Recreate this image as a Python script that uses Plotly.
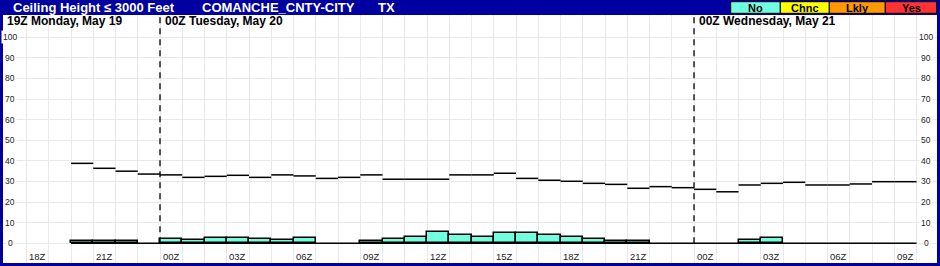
import plotly.graph_objects as go

# ---------------- data ----------------
# hours counted from 00Z Monday May 19 (hour 20 = 20Z Mon, 24 = 00Z Tue, 48 = 00Z Wed)
hours = list(range(20, 58))
clim_line = [38.8, 36.4, 35.0, 33.6,
             33.2, 32.0, 32.5, 33.0, 32.0, 33.2, 32.7, 31.5, 32.0, 33.2, 31.1, 31.1,
             31.1, 33.2, 33.2, 34.0, 31.5, 30.6, 30.1, 29.1, 28.6, 26.7, 27.5, 27.0,
             26.2, 25.0, 28.3, 29.1, 29.6, 28.3, 28.3, 28.8, 29.9, 29.9]
prob_bars = [1.0, 1.0, 1.0, 0.0,
             2.1, 1.5, 2.4, 2.4, 2.1, 1.5, 2.4, 0.0, 0.0, 1.0, 1.9, 3.2,
             5.3, 4.2, 3.2, 4.8, 4.8, 3.9, 3.2, 1.9, 1.0, 1.0, 0.0, 0.0,
             0.0, 0.0, 1.5, 2.4, 0.0, 0.0, 0.0, 0.0, 0.0, 0.0]
tick_hours = [18, 21, 24, 27, 30, 33, 36, 39, 42, 45, 48, 51, 54, 57]
tick_text = ["18Z", "21Z", "00Z", "03Z", "06Z", "09Z", "12Z", "15Z", "18Z", "21Z",
             "00Z", "03Z", "06Z", "09Z"]
y_ticks = [0, 10, 20, 30, 40, 50, 60, 70, 80, 90, 100]
day_starts = [17, 24, 48]
day_labels = ["19Z Monday, May 19", "00Z Tuesday, May 20", "00Z Wednesday, May 21"]
legend_names = ["No", "Chnc", "Lkly", "Yes"]
legend_colors = ["#70FFDF", "#FFFF00", "#FF9900", "#FF3333"]

# ---------------- layout geometry ----------------
W, H = 940, 266
ML, MR, MT, MB = 3, 3, 15, 3
PW, PH = W - ML - MR, H - MT - MB
X_RANGE = [16.944, 58.92]
Y_RANGE = [-9.56, 110.8]
BLUE = "#0000A0"
GRID = "#E8E8E8"
FONT = "Liberation Sans, Arial, sans-serif"


def px_to_paper_x(px):
    return (px - ML) / PW


def px_to_paper_y(py):
    return (H - MB - py) / PH


fig = go.Figure()

# bars (zero-height hours are left to the baseline)
fig.add_trace(go.Bar(
    x=[h + 0.5 for h in hours], y=[v if v > 0 else None for v in prob_bars], width=1,
    marker=dict(color=legend_colors[0], line=dict(color="black", width=1.5)),
    hoverinfo="skip"))

# baseline
fig.add_trace(go.Scatter(
    x=[hours[0], hours[-1] + 1], y=[0, 0], mode="lines",
    line=dict(color="black", width=1.5), hoverinfo="skip"))

# climatology step segments (no vertical connectors)
sx, sy = [], []
for h, v in zip(hours, clim_line):
    sx += [h, h + 1, None]
    sy += [v, v, None]
fig.add_trace(go.Scatter(x=sx, y=sy, mode="lines",
                         line=dict(color="black", width=1.5), hoverinfo="skip"))

shapes = []
# day separators
for d in day_starts[1:]:
    shapes.append(dict(type="line", xref="x", yref="y", x0=d, x1=d, y0=0, y1=Y_RANGE[1],
                       line=dict(color="black", width=1.3, dash="6px,5px")))

annotations = []
# title bar texts
for txt, px in [("Ceiling Height \u2264 3000 Feet", 11), ("COMANCHE_CNTY-CITY", 200), ("TX", 376)]:
    annotations.append(dict(text=txt, xref="paper", yref="paper",
                            x=px_to_paper_x(px), y=px_to_paper_y(7.5),
                            xanchor="left", yanchor="middle", showarrow=False,
                            font=dict(family=FONT, size=13, color="white", weight="bold")))

# legend boxes
box_edges = [730.7, 780.3, 829.3, 885.3, 936.7]
for i, (name, col) in enumerate(zip(legend_names, legend_colors)):
    x0, x1 = box_edges[i], box_edges[i + 1]
    shapes.append(dict(type="rect", xref="paper", yref="paper",
                       x0=px_to_paper_x(x0), x1=px_to_paper_x(x1),
                       y0=px_to_paper_y(13.3), y1=px_to_paper_y(1.7),
                       fillcolor=col, line=dict(color="black", width=1)))
    annotations.append(dict(text=name, xref="paper", yref="paper",
                            x=px_to_paper_x((x0 + x1) / 2), y=px_to_paper_y(7.6),
                            xanchor="center", yanchor="middle", showarrow=False,
                            font=dict(family=FONT, size=11, color="black", weight="bold")))

# day header labels
for d, lab in zip(day_starts, day_labels):
    annotations.append(dict(text=lab, xref="x", yref="paper",
                            x=d + (0.03 if d == 17 else 0.12), y=px_to_paper_y(21),
                            xanchor="left", yanchor="middle", showarrow=False,
                            font=dict(family=FONT, size=12, color="black", weight="bold")))

# bottom hour labels
for h, t in zip(tick_hours, tick_text):
    annotations.append(dict(text=t, xref="x", yref="paper", x=h + 0.5, y=px_to_paper_y(256.5),
                            xanchor="center", yanchor="middle", showarrow=False,
                            font=dict(family=FONT, size=9.5, color="#222222")))

# y labels on both sides
for v in y_ticks:
    for px in (10, 926):
        annotations.append(dict(text=str(v), xref="paper", yref="y", x=px_to_paper_x(px), y=v,
                                xanchor="center", yanchor="middle", showarrow=False,
                                bgcolor="white", borderpad=1,
                                font=dict(family=FONT, size=8.5, color="#222222")))

fig.update_layout(
    width=W, height=H,
    margin=dict(l=ML, r=MR, t=MT, b=MB, pad=0),
    paper_bgcolor=BLUE, plot_bgcolor="white",
    showlegend=False, barmode="overlay", bargap=0,
    shapes=shapes, annotations=annotations,
    xaxis=dict(range=X_RANGE, tickvals=list(range(18, 59)), showticklabels=False,
               showgrid=True, gridcolor=GRID, gridwidth=1, zeroline=False,
               showline=False, ticks="", fixedrange=True),
    yaxis=dict(range=Y_RANGE, tickvals=y_ticks, showticklabels=False,
               showgrid=True, gridcolor=GRID, gridwidth=1, zeroline=False,
               showline=False, ticks="", fixedrange=True),
)

fig.write_html("out.html")
